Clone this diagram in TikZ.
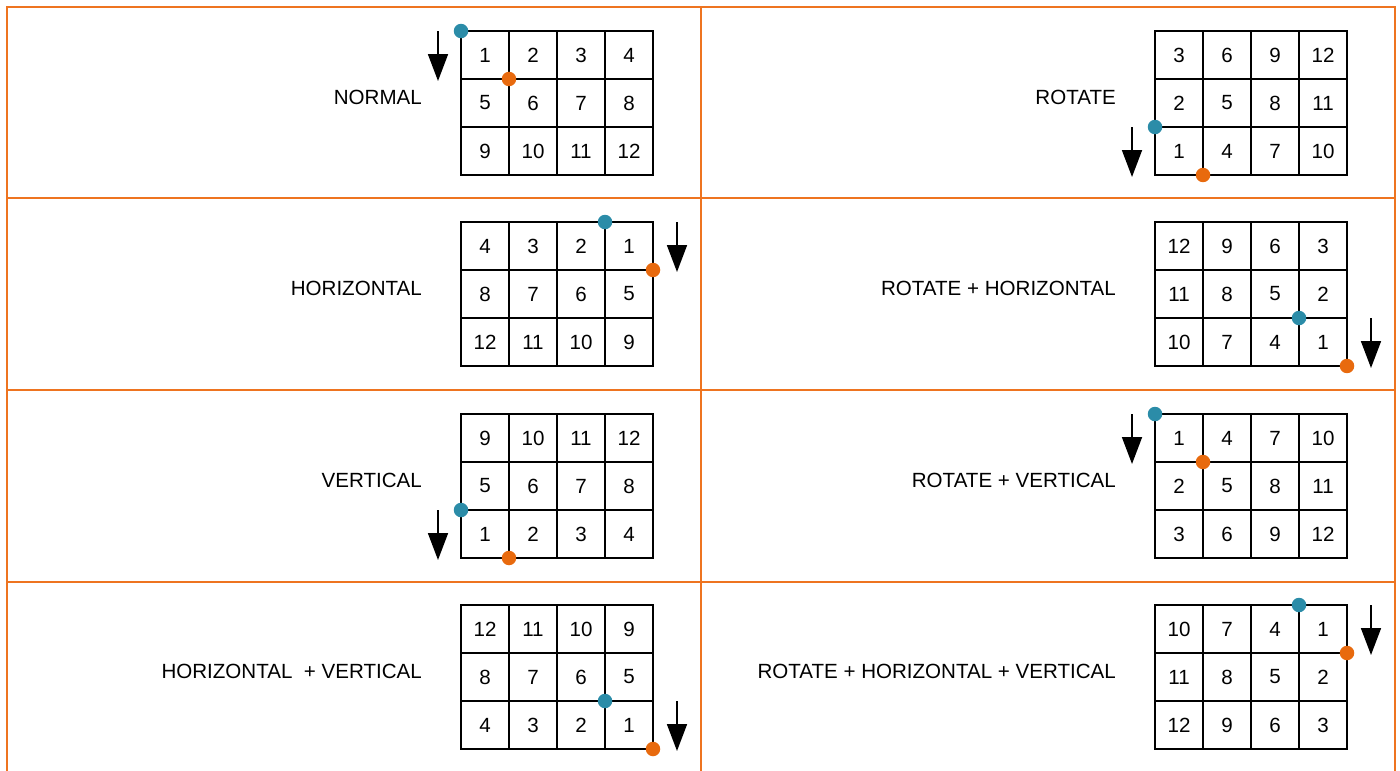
\documentclass[tikz,border=0pt]{standalone}
\usepackage{fontspec}
\setmainfont{Liberation Sans}
\usetikzlibrary{arrows.meta,calc}
\definecolor{frameorange}{HTML}{EE7420}
\definecolor{dotorange}{HTML}{E86A0E}
\definecolor{dotblue}{HTML}{2B8CA8}

\begin{document}
\begin{tikzpicture}[x=0.02cm, y=-0.02cm, every node/.style={font=\fontsize{11.7}{14}\selectfont},
  cellbox/.style={draw, line width=1.1pt, minimum size=0.96cm, inner sep=0pt, outer sep=0pt},
  frameline/.style={draw=frameorange, line width=1.4pt},
  cornerdot/.style={circle, minimum size=0.29cm, inner sep=0pt},
  flowarrow/.style={line width=1pt, -{Triangle[length=0.54cm, width=0.4cm]}}]
\useasboundingbox (0,0) rectangle (1400,771);
% orange frame
\draw[frameline] (7,771) -- (7,7) -- (1395,7) -- (1395,771);
\draw[frameline] (701,7) -- (701,771);
\foreach \yy in {198,390,582} \draw[frameline] (7,\yy) -- (1395,\yy);
% panels: 3x4 cells, dots on cell 1, arrow beside cell 1
\foreach \k/\gx/\gy/\side/\ax/\title/\nums in {
  1/461/31/west/-23/NORMAL/{1,2,3,4,5,6,7,8,9,10,11,12},
  2/1155/31/west/-23/ROTATE/{3,6,9,12,2,5,8,11,1,4,7,10},
  3/461/222/east/24/HORIZONTAL/{4,3,2,1,8,7,6,5,12,11,10,9},
  4/1155/222/east/24/ROTATE + HORIZONTAL/{12,9,6,3,11,8,5,2,10,7,4,1},
  5/461/414/west/-23/VERTICAL/{9,10,11,12,5,6,7,8,1,2,3,4},
  6/1155/414/west/-23/ROTATE + VERTICAL/{1,4,7,10,2,5,8,11,3,6,9,12},
  7/461/605/east/24/HORIZONTAL\ \ + VERTICAL/{12,11,10,9,8,7,6,5,4,3,2,1},
  8/1155/605/east/24/ROTATE + HORIZONTAL + VERTICAL/{10,7,4,1,11,8,5,2,12,9,6,3}} {
  % cells
  \foreach \v [count=\i from 0] in \nums {
    \pgfmathtruncatemacro\cc{mod(\i,4)}
    \pgfmathtruncatemacro\rr{div(\i,4)}
    \node[cellbox] (p\k-\v) at (\gx+24+48*\cc, \gy+24+48*\rr) {\v};
  }
  % label
  \node[anchor=east] (l\k) at (\gx-33, \gy+66) {\title};
  % dots
  \node[cornerdot, fill=dotblue] (b\k) at (p\k-1.north west) {};
  \node[cornerdot, fill=dotorange] (o\k) at (p\k-1.south east) {};
  % arrow
  \coordinate (top\k) at ($(p\k-1.north \side)+(\ax,0)$);
  \coordinate (tip\k) at ($(p\k-1.south \side)+(\ax,2)$);
  \draw[flowarrow] (top\k) -- (tip\k);
}
\end{tikzpicture}
\end{document}
